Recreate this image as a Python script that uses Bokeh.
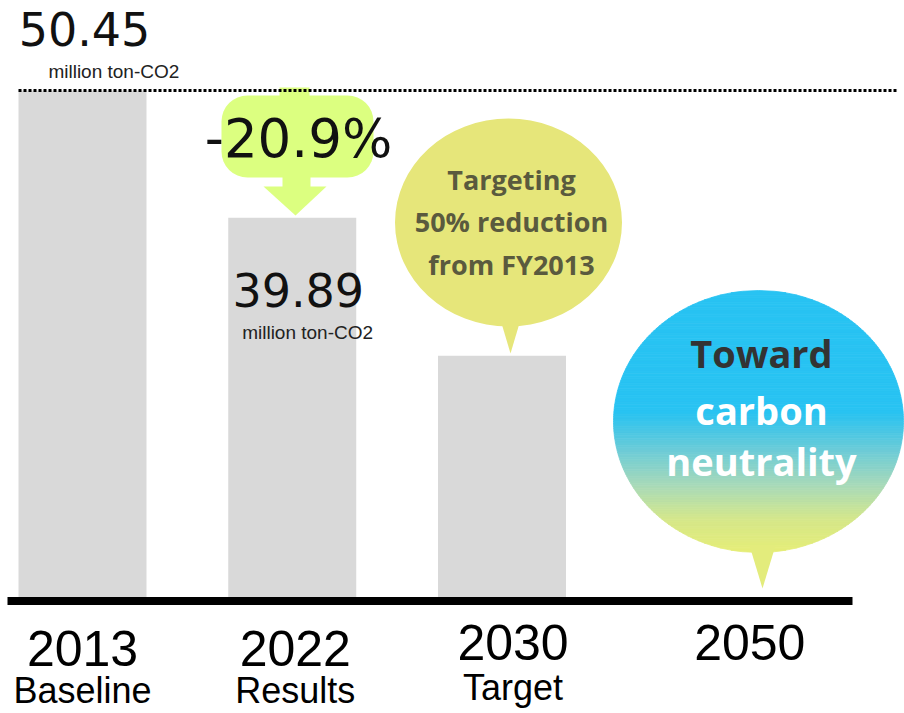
import numpy as np
from bokeh.plotting import figure
from bokeh.models import Range1d
from bokeh.core.properties import value
from bokeh.embed import file_html
from bokeh.resources import INLINE

# ---------------- data ----------------
categories = ["2013", "2022", "2030", "2050"]
subtitles = ["Baseline", "Results", "Target", ""]
bar_heights = [50.45, 37.8, 24.1]          # drawn bar heights (million ton-CO2)
value_labels = ["50.45", "39.89"]
unit_label = "million  ton-CO2"
reduction_label = "-20.9%"
target_text = ["Targeting", "50% reduction", "from FY2013"]
goal_text = ["Toward", "carbon", "neutrality"]

# ---------------- layout helpers ----------------
W, H = 904, 713
PX = 209.75        # pixels per category slot
PY = 10.07         # pixels per unit
X0, Y0 = 82, 598   # reference pixel of slot 0 / value 0


def fx(xr):
    return (xr - X0) / PX


def fy(yr):
    return (Y0 - yr) / PY


p = figure(width=W, height=H, output_backend="svg", toolbar_location=None,
           x_range=Range1d(fx(0), fx(W)), y_range=Range1d(fy(H), fy(0)),
           x_axis_location=None, y_axis_location=None, min_border=0)
p.grid.visible = False
p.outline_line_color = None
p.background_fill_color = "white"

idx = np.arange(len(bar_heights))

# bars
p.vbar(x=idx, top=bar_heights, bottom=0, width=128 / PX,
       fill_color="#d9d9d9", line_color=None)

# green reduction arrow (anchored on 2022 slot)
LIME = "#dcff80"
p.quad(left=fx(279), right=fx(309), top=fy(87), bottom=fy(97),
       fill_color=LIME, line_color=None)
p.quad(left=fx(221), right=fx(373), top=fy(95), bottom=fy(177),
       fill_color=LIME, line_color=None, border_radius=26)
p.quad(left=fx(282), right=fx(310), top=fy(176), bottom=fy(187),
       fill_color=LIME, line_color=None)
p.patch([fx(263), fx(326), fx(295)], [fy(186), fy(186), fy(215)],
        fill_color=LIME, line_color=None)

# yellow target bubble (2030)
YEL = "#e6e67a"
p.ellipse(x=fx(508), y=fy(222), width=227, height=208,
          width_units="screen", height_units="screen",
          fill_color=YEL, line_color=None)
p.patch([fx(499), fx(521), fx(510)], [fy(316), fy(316), fy(353)],
        fill_color=YEL, line_color=None)

# gradient bubble (2050)
cx, cy, rx, ry = 758, 421, 145, 131
stops_y = [290, 412, 450, 485, 520, 552]
stops_c = [(40, 195, 242), (40, 195, 242), (108, 204, 216),
           (168, 218, 186), (214, 232, 138), (230, 238, 120)]


def col_at(yr):
    r = np.interp(yr, stops_y, [c[0] for c in stops_c])
    g = np.interp(yr, stops_y, [c[1] for c in stops_c])
    b = np.interp(yr, stops_y, [c[2] for c in stops_c])
    return "#%02x%02x%02x" % (int(r), int(g), int(b))


N = 110
edges = np.linspace(cy - ry, cy + ry, N + 1)
xs, ys, cols = [], [], []
for k in range(N):
    yy = np.linspace(edges[k], edges[k + 1], 4)
    hw = rx * np.sqrt(np.clip(1 - ((yy - cy) / ry) ** 2, 0, 1))
    left = cx - hw
    right = cx + hw
    px_ = list(left) + list(right[::-1])
    py_ = list(yy) + list(yy[::-1])
    xs.append([fx(v) for v in px_])
    ys.append([fy(v) for v in py_])
    cols.append(col_at((edges[k] + edges[k + 1]) / 2))
p.patches(xs, ys, fill_color=cols, line_color=cols, line_width=0.8)
p.patch([fx(749), fx(775), fx(762)], [fy(545), fy(545), fy(588)],
        fill_color="#e3ec7c", line_color=None)

# dotted reference line at baseline level
p.line([fx(18), fx(896)], [bar_heights[0], bar_heights[0]],
       line_dash="3 2", line_width=3, color="black")

# thick base line
p.line([fx(7), fx(852)], [fy(600.5), fy(600.5)], line_width=8, color="black")

# value labels (y_offset positive = downwards)
p.text(x=[0], y=[bar_heights[0]], text=[value_labels[0]], x_offset=2, y_offset=-61,
       text_font=value("DejaVu Sans"), text_font_size="46px",
       text_align="center", text_baseline="alphabetic", text_color="#111111")
p.text(x=[0], y=[bar_heights[0]], text=[unit_label], x_offset=34, y_offset=-19,
       text_font=value("Liberation Sans"), text_font_size="19px",
       text_align="center", text_baseline="alphabetic", text_color="#222222")
p.text(x=[1], y=[bar_heights[1]], text=[value_labels[1]], x_offset=6, y_offset=72,
       text_font=value("DejaVu Sans"), text_font_size="46px",
       text_align="center", text_baseline="alphabetic", text_color="#111111")
p.text(x=[1], y=[bar_heights[1]], text=[unit_label], x_offset=18, y_offset=115,
       text_font=value("Liberation Sans"), text_font_size="19px",
       text_align="center", text_baseline="alphabetic", text_color="#222222")

# reduction label
p.text(x=[fx(298)], y=[fy(138)], text=[reduction_label],
       text_font=value("DejaVu Sans"), text_font_size="53px",
       text_align="center", text_baseline="alphabetic", text_color="#111111")

# bubble texts
p.text(x=[fx(511)] * 3, y=[fy(179), fy(221), fy(264)], text=target_text,
       text_font=value("Open Sans"), text_font_style="bold",
       text_font_size="27px", text_align="center", text_baseline="alphabetic",
       text_color="#5a5a3e")
p.text(x=[fx(761)], y=[fy(352)], text=[goal_text[0]],
       text_font=value("Open Sans"), text_font_style="bold",
       text_font_size="38px", text_align="center", text_baseline="alphabetic",
       text_color="#333333")
p.text(x=[fx(761)] * 2, y=[fy(409), fy(460)], text=goal_text[1:],
       text_font=value("Open Sans"), text_font_style="bold",
       text_font_size="38px", text_align="center", text_baseline="alphabetic",
       text_color="#ffffff")

# category labels
cat_x = np.arange(len(categories))
year_dx = [0, 3, 11, 38]
year_base = [648, 648, 642, 642]
sub_base = [690, 690, 687, 687]
p.text(x=cat_x, y=[fy(b) for b in year_base], text=categories, x_offset=year_dx,
       text_font=value("Liberation Sans"), text_font_size="50px",
       text_align="center", text_baseline="alphabetic", text_color="#000000")
p.text(x=cat_x, y=[fy(b) for b in sub_base], text=subtitles, x_offset=year_dx,
       text_font=value("Liberation Sans"), text_font_size="36px",
       text_align="center", text_baseline="alphabetic", text_color="#000000")

open("out.html", "w").write(file_html(p, INLINE))
